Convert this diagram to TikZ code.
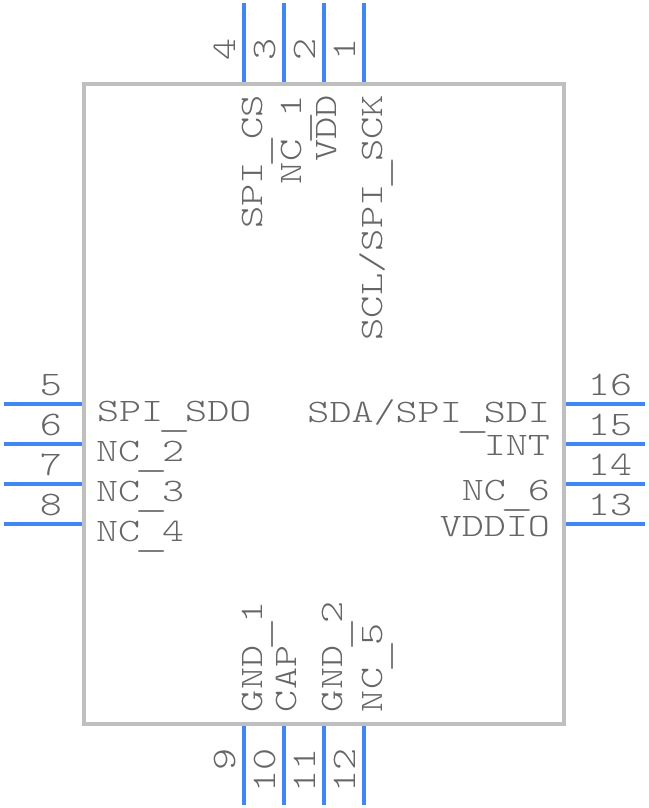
\documentclass[tikz,border=0pt]{standalone}
\definecolor{bodyc}{HTML}{BFBFBF}
\definecolor{pinc}{HTML}{4285F4}
\definecolor{textc}{HTML}{666666}
\newcommand{\lowus}{\makebox[.525em]{\smash{\raisebox{-7pt}{\scalebox{1.55}[1]{\_}}}}}
\tikzset{
  x=1pt,y=-1pt,
  body/.style={draw=bodyc,line width=4pt,line join=miter},
  pin/.style={draw=pinc,line width=4pt},
  lab/.style={inner sep=0pt,outer sep=0pt,text=textc,yscale=.78,
    font=\fontsize{42}{42}\ttfamily\fontseries{l}\selectfont},
  num/.style={lab,yscale=1.05},
  ll/.style={lab,anchor=base west},
  lr/.style={lab,anchor=base east},
  lt/.style={rotate=90,lab,xscale=1.012,anchor=base east},
  lb/.style={rotate=90,lab,anchor=base west},
  nl/.style={num,anchor=base},
  nt/.style={rotate=90,num,anchor=base},
  nb/.style={rotate=90,num,anchor=base east},
}
\begin{document}
\begin{tikzpicture}
\useasboundingbox (0,0) rectangle (648,808);
% body
\coordinate (tl) at (84,84);
\coordinate (br) at (564,724);
\draw[body] (tl) rectangle (br);
% pins
\foreach \n/\x in {p4/244,p3/284,p2/324,p1/364}{
  \coordinate (\n a) at (\x,3.5); \coordinate (\n b) at (\x,82);
  \draw[pin] (\n a) -- (\n b);}
\foreach \n/\x in {p9/244,p10/284,p11/324,p12/364}{
  \coordinate (\n a) at (\x,726); \coordinate (\n b) at (\x,805);
  \draw[pin] (\n a) -- (\n b);}
\foreach \n/\y in {p5/404,p6/444,p7/484,p8/524}{
  \coordinate (\n a) at (3.5,\y); \coordinate (\n b) at (82,\y);
  \draw[pin] (\n a) -- (\n b);}
\foreach \n/\y in {p16/404,p15/444,p14/484,p13/524}{
  \coordinate (\n a) at (566,\y); \coordinate (\n b) at (645,\y);
  \draw[pin] (\n a) -- (\n b);}
% pin numbers
\node[nt] (n4) at (235,49) {4};
\node[nt] (n3) at (275,49) {3};
\node[nt] (n2) at (315,49) {2};
\node[nt] (n1) at (355,49) {1};
\node[nb] (n9) at (235,748) {9};
\node[nb] (n10) at (275,748) {10};
\node[nb] (n11) at (315,748) {11};
\node[nb] (n12) at (355,748) {12};
\node[nl] (n5) at (51,395) {5};
\node[nl] (n6) at (51,435) {6};
\node[nl] (n7) at (51,475) {7};
\node[nl] (n8) at (51,515) {8};
\node[nl] (n16) at (610,395) {16};
\node[nl] (n15) at (610,435) {15};
\node[nl] (n14) at (610,475) {14};
\node[nl] (n13) at (610,515) {13};
% labels
\node[lt] (t1) at (262,95) {SPI\lowus CS};
\node[lt] (t2) at (301,95) {NC\lowus 1};
\node[lt] (t3) at (336,95) {VDD};
\node[lt] (t4) at (382,95) {SCL/SPI\lowus SCK};
\node[lb] (b1) at (262,712) {GND\lowus 1};
\node[lb] (b2) at (296,712) {CAP};
\node[lb] (b3) at (342,712) {GND\lowus 2};
\node[lb] (b4) at (382,712) {NC\lowus 5};
\node[ll] (l1) at (97,421) {SPI\lowus SDO};
\node[ll] (l2) at (96,461) {NC\lowus 2};
\node[ll] (l3) at (96,501) {NC\lowus 3};
\node[ll] (l4) at (96,541) {NC\lowus 4};
\node[lr] (r1) at (550,422) {SDA/SPI\lowus SDI};
\node[lr] (r2) at (550,455) {INT};
\node[lr] (r3) at (550,500) {NC\lowus 6};
\node[lr] (r4) at (550,536) {VDDIO};
\end{tikzpicture}
\end{document}
